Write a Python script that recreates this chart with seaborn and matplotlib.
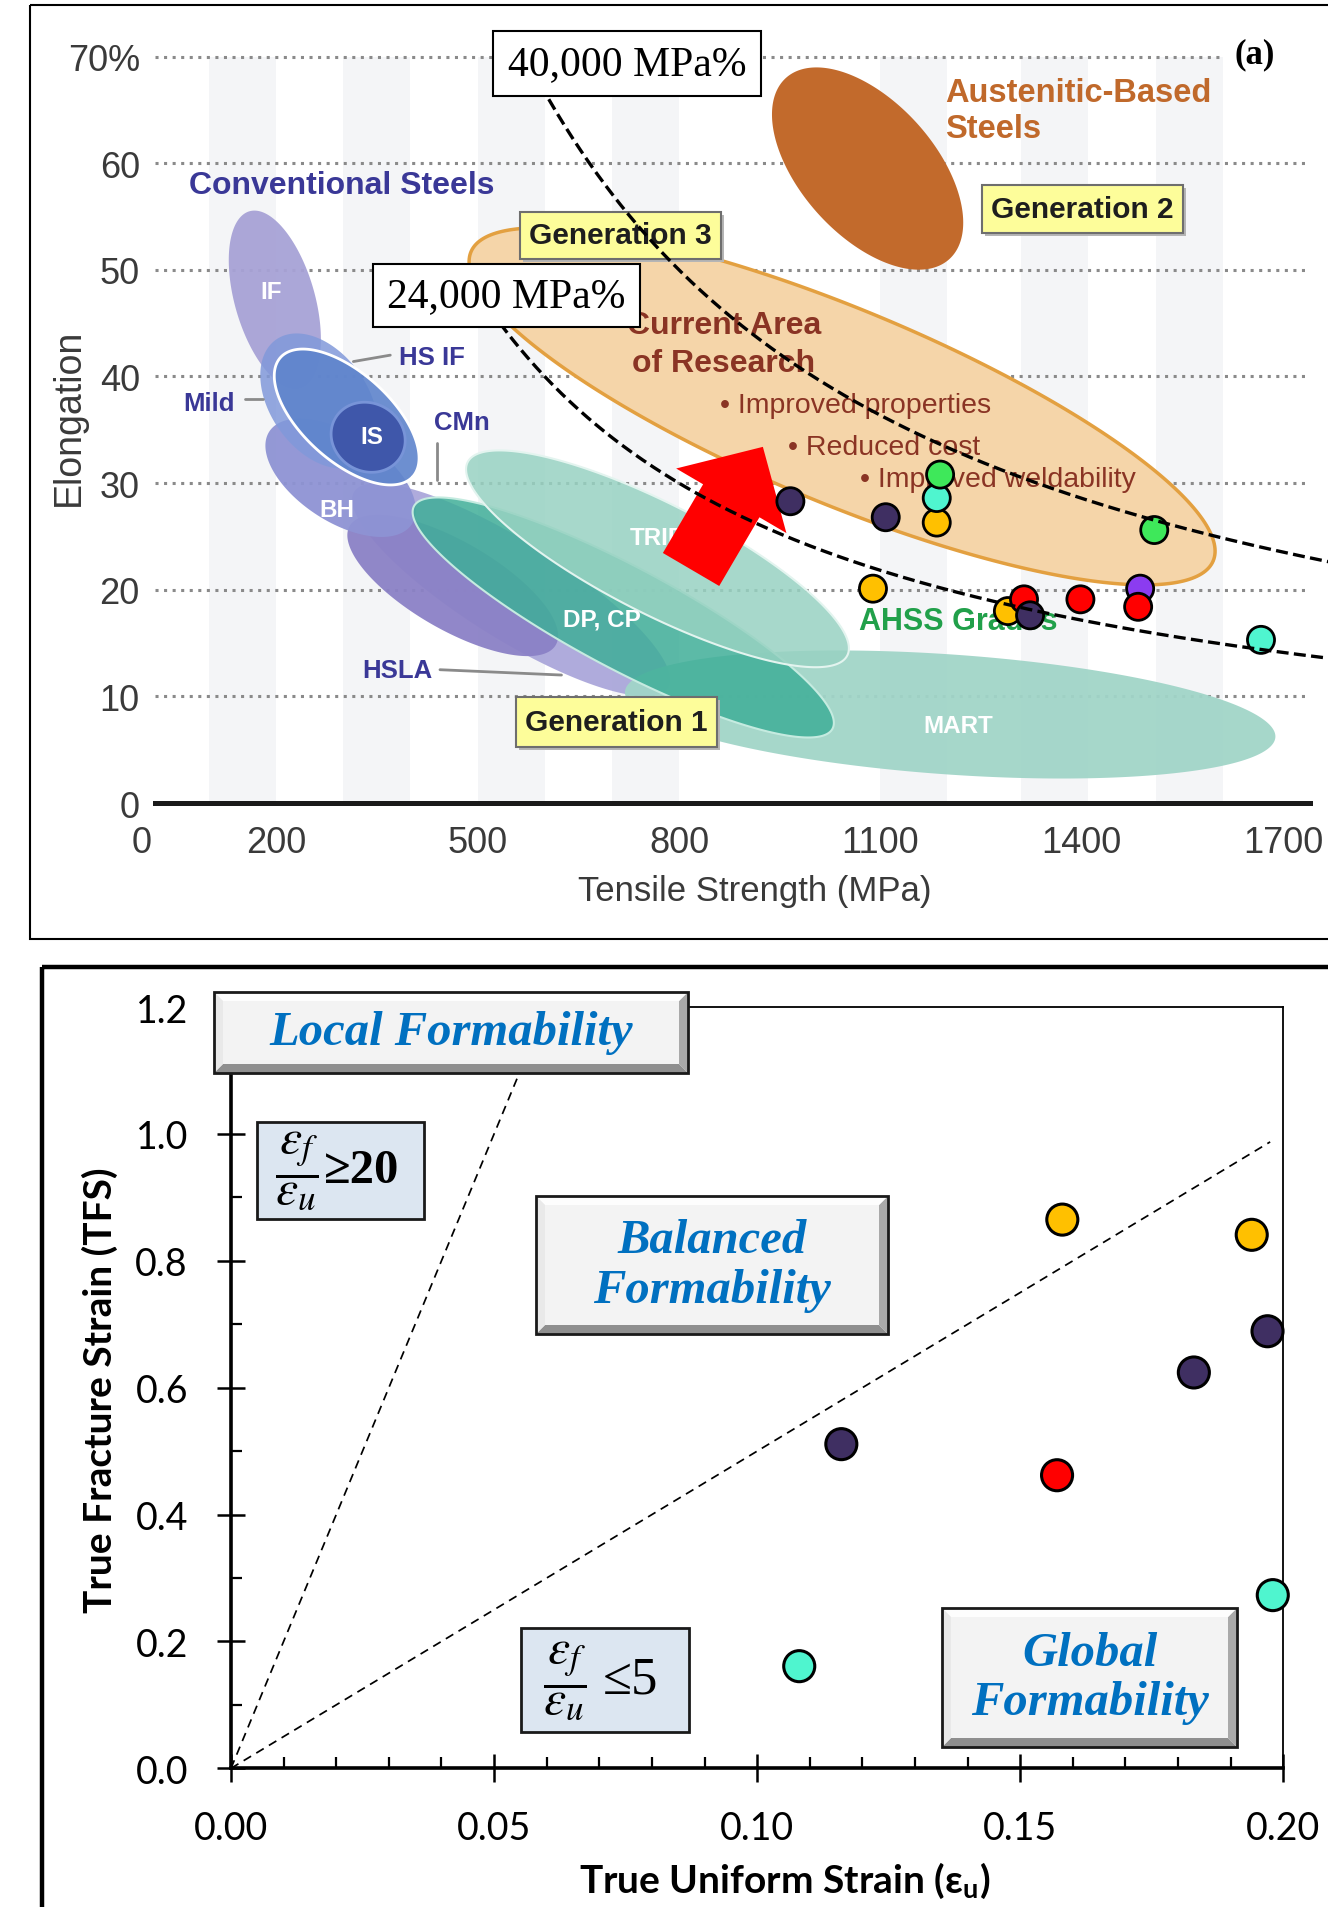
import numpy as np
import pandas as pd
import matplotlib
matplotlib.use("Agg")
import matplotlib.pyplot as plt
import matplotlib.transforms as mtransforms
from matplotlib.patches import Polygon, Rectangle, FancyArrowPatch, ArrowStyle
from matplotlib.ticker import MultipleLocator, FormatStrFormatter
import seaborn as sns

sns.set_theme(style="white")
NARROW = ["Liberation Sans", "DejaVu Sans"]
SERIF = ["Liberation Serif", "DejaVu Serif"]
CAL = ["Lato", "DejaVu Sans"]
plt.rcParams["font.family"] = NARROW
plt.rcParams["mathtext.fontset"] = "stix"

# ---------------- panel (a) data ----------------
a_grade = ["purple", "yellow", "yellow", "yellow", "aqua", "aqua", "green", "green",
           "red", "red", "red", "dark", "dark", "dark"]
a_ts = [1487, 1184, 1089, 1290, 1184, 1667, 1189, 1508, 1314, 1398, 1484, 966, 1108, 1323]
a_el = [20.1, 26.3, 20.1, 18.0, 28.6, 15.3, 30.8, 25.6, 19.1, 19.1, 18.4, 28.3, 26.8, 17.6]
a_xticks = [0, 200, 500, 800, 1100, 1400, 1700]
a_yticks = [0, 10, 20, 30, 40, 50, 60, 70]
a_yticklabels = ["0", "10", "20", "30", "40", "50", "60", "70%"]
iso_values = [40000, 24000]
iso_texts = ["40,000 MPa%", "24,000 MPa%"]
iso_start_el = [66, 45]

# steel families (regions): centre tensile strength / elongation
reg_name = ["CMn", "HSLA", "BH", "IF", "Mild", "HS IF", "IS", "MART", "DP, CP", "TRIP",
            "Current", "Austenitic"]
reg_ts = [550, 463, 296, 198, 264, 305, 337, 1204, 717, 768, 1043, 1081]
reg_el = [20.0, 20.4, 30.5, 47.2, 37.7, 36.2, 34.3, 8.3, 17.4, 22.9, 37.2, 59.5]

# labels inside the chart (TS, El)
lab_text = ["IF", "IS", "BH", "DP, CP", "TRIP", "MART"]
lab_ts = [193, 342, 290, 685, 768, 1216]
lab_el = [48.0, 34.4, 27.5, 17.3, 24.9, 7.3]
call_text = ["HS IF", "Mild", "CMn", "HSLA"]
call_ts = [432, 100, 476, 381]
call_el = [41.8, 37.5, 35.7, 12.5]
lead_ts = [[315, 370], [153, 181], [439, 439], [444, 625]]
lead_el = [[41.4, 42.0], [37.9, 37.9], [33.8, 30.3], [12.5, 12.0]]
bullets = ["• Improved properties", "• Reduced cost", "• Improved weldability"]
bullet_ts = [861, 963, 1070]
bullet_el = [37.3, 33.4, 30.4]
arrow_ts = [818, 925]
arrow_el = [21.9, 33.4]
stripe_ts = [100, 300, 500, 700, 1100, 1310, 1510]

# ---------------- panel (b) data ----------------
b_grade = ["aqua", "aqua", "red", "dark", "dark", "dark", "yellow", "yellow"]
b_eu = [0.108, 0.198, 0.157, 0.116, 0.183, 0.197, 0.158, 0.194]
b_tfs = [0.161, 0.273, 0.462, 0.511, 0.624, 0.689, 0.865, 0.841]
ratio_lines = [20, 5]
ratio_xend = [0.06, 0.1975]

palette = {"dark": "#3f2f62", "yellow": "#ffc000", "aqua": "#4ff5cf",
           "green": "#3ee85a", "red": "#ff0000", "purple": "#8b3cf0"}

# ---------------- figure ----------------
W, H = 1328, 1908
fig = plt.figure(figsize=(W / 100, H / 100), dpi=100)
fig.patch.set_facecolor("white")
pix = mtransforms.Affine2D().scale(1 / W, -1 / H).translate(0, 1) + fig.transFigure


def axes_px(l, t, r, b):
    return fig.add_axes([l / W, 1 - b / H, (r - l) / W, (b - t) / H])


# frames
fig.add_artist(Rectangle((30, 6), 1400, 934, transform=pix, fill=False, ec="black", lw=1.5))
fig.add_artist(Rectangle((42, 968), 1400, 1100, transform=pix, fill=False, ec="black", lw=3.2))

# ======== panel (a) ========
AL, AT, AR, AB = 141.9, 25.6, 1310.0, 804.0
ax = axes_px(AL, AT, AR, AB)
XMAX, YMAX = 1740, 73
kx = (AR - AL) / XMAX
ky = (AB - AT) / YMAX

for s in stripe_ts:
    ax.axvspan(s, s + 100, ymin=0, ymax=70 / YMAX, color="#f4f5f7", lw=0, zorder=0)
for yv in a_yticks[1:]:
    ax.hlines(yv, 20, 1608 if yv == 70 else 1735, colors="#8a8a8a", lw=2.2,
              linestyles=(0, (1, 1.8)), zorder=1)

reg_style = [  # a_px, b_px, angle, face, alpha, edge, lw
    (185, 49, -32, "#aba7da", 0.95, "none", 0),
    (119, 44, -30, "#8b81c6", 0.95, "none", 0),
    (85, 44, -33, "#8e93d4", 0.95, "none", 0),
    (92, 40, -74, "#a7a2d6", 0.95, "none", 0),
    (75, 49, -55, "#8199da", 0.85, "none", 0),
    (89, 44, -42, "#5e84cc", 0.9, "white", 2.0),
    (38, 34, -30, "#3f57aa", 1.0, "#7894d8", 2.0),
    (326, 60, -4, "#a1d5c8", 0.95, "none", 0),
    (237, 51, -28, "#3fae98", 0.85, "#c5ebe0", 1.5),
    (213, 55, -27, "#98d2c2", 0.85, "#e3f4ef", 1.5),
    (402, 97, -22.6, "#f5d5a9", 1.0, "#e3a040", 2.5),
    (122, 67, -48, "#c26a2c", 1.0, "none", 0),
]
t = np.linspace(0, 2 * np.pi, 300)
for i, (cx, cy) in enumerate(zip(reg_ts, reg_el)):
    a, b, ang, fc, alp, ec, lw = reg_style[i]
    th = np.deg2rad(ang)
    dx = a * np.cos(t) * np.cos(th) - b * np.sin(t) * np.sin(th)
    dy = a * np.cos(t) * np.sin(th) + b * np.sin(t) * np.cos(th)
    pts = np.column_stack([cx + dx / kx, cy + dy / ky])
    ax.add_patch(Polygon(pts, closed=True, fc=fc, alpha=alp, ec="none", zorder=2 + i * 0.05))
    if ec != "none":
        ax.add_patch(Polygon(pts, closed=True, fill=False, ec=ec, lw=lw, zorder=2 + i * 0.05 + 0.01))

CONV = "#3a3897"
for s, x, y in zip(lab_text, lab_ts, lab_el):
    ax.text(x, y, s, color="white", fontsize=17.5, fontweight="bold", ha="center", va="center",
            family=NARROW, zorder=4)
for s, x, y in zip(call_text, call_ts, call_el):
    ax.text(x, y, s, color=CONV, fontsize=18.5, fontweight="bold", ha="center", va="center",
            family=NARROW, zorder=4)
for xs, ys in zip(lead_ts, lead_el):
    ax.plot(xs, ys, color="#8a8a8a", lw=2.0, zorder=4)
ax.text(298, 58.0, "Conventional Steels", color=CONV, fontsize=23, fontweight="bold",
        ha="center", va="center", family=NARROW, zorder=4)
ax.text(1216, 17.1, "AHSS Grades", color="#21a04a", fontsize=22, fontweight="bold",
        ha="center", va="center", family=NARROW, zorder=4)
RES = "#8a3424"
ax.text(867, 44.8, "Current Area", color=RES, fontsize=23, fontweight="bold",
        ha="center", va="center", family=NARROW, zorder=4)
ax.text(867, 41.3, "of Research", color=RES, fontsize=23, fontweight="bold",
        ha="center", va="center", family=NARROW, zorder=4)
for s, x, y in zip(bullets, bullet_ts, bullet_el):
    ax.text(x, y, s, color=RES, fontsize=20.5, ha="left", va="center", family=NARROW, zorder=4)
ax.text(1196, 66.6, "Austenitic-Based", color="#c0692b", fontsize=23.5, fontweight="bold",
        ha="left", va="center", family=NARROW, zorder=4)
ax.text(1196, 63.3, "Steels", color="#c0692b", fontsize=23.5, fontweight="bold",
        ha="left", va="center", family=NARROW, zorder=4)


def box(axx, x0, y0, x1, y1, text, fc, ec, lw, fs, family, weight, z, color="black", style="normal"):
    axx.add_patch(Rectangle((x0, y0), x1 - x0, y1 - y0, transform=pix, fc=fc, ec=ec, lw=lw,
                            zorder=z, clip_on=False))
    axx.text((x0 + x1) / 2, (y0 + y1) / 2, text, transform=pix, ha="center", va="center",
             fontsize=fs, family=family, fontweight=weight, color=color, style=style,
             zorder=z + 0.1, clip_on=False)


# generation boxes
for (x0, y0, x1, y1), s in zip([(520, 213, 721, 260), (982, 186, 1183, 234), (516, 698, 717, 748)],
                               ["Generation 3", "Generation 2", "Generation 1"]):
    ax.add_patch(Rectangle((x0 + 3, y0 + 3), x1 - x0, y1 - y0, transform=pix, fc="#b5b5b5",
                           ec="none", zorder=4.9, clip_on=False))
    box(ax, x0, y0, x1, y1, s, "#fdfd9a", "#6e6e6e", 1.5, 21.5, NARROW, "bold", 5, color="#1e1e1e")

# red arrow
ax.add_patch(FancyArrowPatch((arrow_ts[0], arrow_el[0]), (arrow_ts[1], arrow_el[1]),
                             arrowstyle=ArrowStyle.Simple(head_length=45, head_width=92, tail_width=47),
                             mutation_scale=1, fc="#ff0000", ec="none", zorder=6,
                             shrinkA=0, shrinkB=0))

# data points
df_a = pd.DataFrame({"ts": a_ts, "el": a_el, "grade": a_grade})
sns.scatterplot(data=df_a, x="ts", y="el", hue="grade", palette=palette, s=380,
                edgecolor="black", linewidth=2.0, legend=False, ax=ax, zorder=7)

# iso-product curves
for C, e0 in zip(iso_values, iso_start_el):
    xs = np.linspace(C / e0, 1800, 400)
    ax.plot(xs, C / xs, color="black", lw=2.4, ls=(0, (3.6, 1.6)), zorder=8, clip_on=False)

for (x0, y0, x1, y1), s in zip([(493, 32, 761, 97), (373, 265, 640, 328)], iso_texts):
    box(ax, x0, y0, x1, y1, s, "white", "black", 1.5, 30, SERIF, "normal", 9)
ax.text(1255, 55, "(a)", transform=pix, ha="center", va="center", fontsize=25,
        family=SERIF, fontweight="bold", color="black", zorder=9)

ax.set_xlim(0, XMAX)
ax.set_ylim(0, YMAX)
ax.set_xticks(a_xticks)
ax.set_xticklabels([str(v) for v in a_xticks])
ax.set_yticks(a_yticks)
ax.set_yticklabels(a_yticklabels)
ax.tick_params(axis="both", length=0, labelsize=26, labelcolor="#3a3a3a")
ax.tick_params(axis="x", pad=16)
ax.tick_params(axis="y", pad=1.5)
for sp in ["top", "right", "left"]:
    ax.spines[sp].set_visible(False)
ax.spines["bottom"].set_linewidth(3.6)
ax.spines["bottom"].set_color("#1a1a1a")
ax.spines["bottom"].set_bounds(19, XMAX)
ax.spines["bottom"].set_zorder(3)
ax.set_xlabel("Tensile Strength (MPa)", fontsize=25, color="#3a3a3a")
ax.xaxis.set_label_coords(0.525, -0.112)
ax.xaxis.label.set_va("center")
ax.set_ylabel("Elongation", fontsize=27, color="#3a3a3a")
ax.yaxis.set_label_coords(-0.0624, 0.4966)
ax.yaxis.label.set_va("center")

# ======== panel (b) ========
BL, BT, BR, BB = 231.0, 1008.1, 1283.3, 1769.3
axb = axes_px(BL, BT, BR, BB)
for r, xe in zip(ratio_lines, ratio_xend):
    xs = np.array([0, xe])
    axb.plot(xs, r * xs, color="black", lw=1.25, ls=(0, (5, 3.5)), zorder=3, clip_on=False)

df_b = pd.DataFrame({"eu": b_eu, "tfs": b_tfs, "grade": b_grade})
sns.scatterplot(data=df_b, x="eu", y="tfs", hue="grade", palette=palette, s=500,
                edgecolor="black", linewidth=2.2, legend=False, ax=axb, zorder=6, clip_on=False)

axb.set_xlim(0, 0.2)
axb.set_ylim(0, 1.2)
axb.xaxis.set_major_locator(MultipleLocator(0.05))
axb.xaxis.set_minor_locator(MultipleLocator(0.01))
axb.yaxis.set_major_locator(MultipleLocator(0.2))
axb.yaxis.set_minor_locator(MultipleLocator(0.1))
axb.xaxis.set_major_formatter(FormatStrFormatter("%.2f"))
axb.yaxis.set_major_formatter(FormatStrFormatter("%.1f"))
axb.tick_params(which="major", direction="inout", length=20, width=1.8, color="black",
                labelsize=27, labelcolor="black", bottom=True, left=True, top=False, right=False)
axb.tick_params(which="minor", direction="in", length=8, width=1.6, color="black",
                bottom=True, left=True, top=False, right=False)
axb.tick_params(axis="x", which="major", pad=20)
axb.tick_params(axis="y", which="major", pad=21)
for lab in axb.get_xticklabels() + axb.get_yticklabels():
    lab.set_family(CAL)
for sp in ["left", "bottom"]:
    axb.spines[sp].set_linewidth(2.6)
    axb.spines[sp].set_color("black")
for sp in ["top", "right"]:
    axb.spines[sp].set_linewidth(1.3)
    axb.spines[sp].set_color("black")
axb.set_xlabel("True Uniform Strain (ε$_\\mathregular{u}$)", fontsize=28, fontweight="bold",
               family=CAL, color="black")
axb.xaxis.set_label_coords(0.5265, -0.147)
axb.xaxis.label.set_va("center")
axb.set_ylabel("True Fracture Strain (TFS)", fontsize=28, fontweight="bold", family=CAL,
               color="black")
axb.yaxis.set_label_coords(-0.1245, 0.498)
axb.yaxis.label.set_va("center")


def bevel_box(axx, x0, y0, x1, y1, text, z=10, b=9):
    kw = dict(transform=pix, ec="none", zorder=z, clip_on=False)
    axx.add_patch(Rectangle((x0, y0), x1 - x0, y1 - y0, fc="#f3f3f3", **kw))
    axx.add_patch(Polygon([(x0, y1), (x1, y1), (x1 - b, y1 - b), (x0 + b, y1 - b)], fc="#8f8f8f", **kw))
    axx.add_patch(Polygon([(x1, y0), (x1, y1), (x1 - b, y1 - b), (x1 - b, y0 + b)], fc="#a9a9a9", **kw))
    axx.add_patch(Polygon([(x0, y0), (x1, y0), (x1 - b, y0 + b), (x0 + b, y0 + b)], fc="#fdfdfd", **kw))
    axx.add_patch(Polygon([(x0, y0), (x0, y1), (x0 + b, y1 - b), (x0 + b, y0 + b)], fc="#e9e9e9", **kw))
    axx.add_patch(Rectangle((x0, y0), x1 - x0, y1 - y0, transform=pix, fill=False, ec="#1a1a1a",
                            lw=2.0, zorder=z + 0.2, clip_on=False))
    axx.text((x0 + x1) / 2, (y0 + y1) / 2, text, transform=pix, ha="center", va="center",
             multialignment="center", fontsize=35, family=SERIF, fontweight="bold", style="italic",
             color="#0070c0", zorder=z + 0.3, clip_on=False, linespacing=1.15)


bevel_box(axb, 214, 993, 688, 1074, "Local Formability")
bevel_box(axb, 536, 1197, 888, 1335, "Balanced\nFormability")
bevel_box(axb, 942, 1609, 1237, 1748, "Global\nFormability")

frac = r"$\dfrac{\varepsilon_f}{\varepsilon_u}$"
for (x0, y0, x1, y1), fx, rx, rs, rw, rsz in zip(
        [(257, 1123, 424, 1220), (521, 1629, 689, 1733)],
        [297, 565], [362, 630], ["≥20", "≤5"], ["bold", "normal"], [35, 38]):
    axb.add_patch(Rectangle((x0, y0), x1 - x0, y1 - y0, transform=pix, fc="#dce6f1",
                            ec="#1a1a1a", lw=2.0, zorder=10, clip_on=False))
    axb.text(fx, (y0 + y1) / 2, frac, transform=pix, ha="center", va="center",
             fontsize=36, color="black", zorder=10.5, clip_on=False)
    axb.text(rx, (y0 + y1) / 2, rs, transform=pix, ha="center", va="center", family=SERIF,
             fontsize=rsz, fontweight=rw, color="black", zorder=10.5, clip_on=False)

fig.savefig("out.png", dpi=100, facecolor="white")
